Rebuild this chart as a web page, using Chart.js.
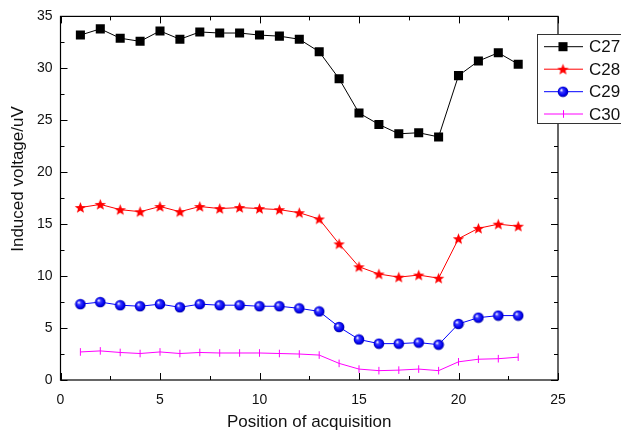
<!DOCTYPE html>
<html>
<head>
<meta charset="utf-8">
<script src="https://cdn.jsdelivr.net/npm/chart.js@4.4.0/dist/chart.umd.min.js"></script>
<style>
html,body{margin:0;padding:0;background:#fff;}
#wrap{width:621px;height:434px;position:relative;}
</style>
</head>
<body>
<div id="wrap"><canvas id="c" width="621" height="434"></canvas></div>
<script>
const positions = [1,2,3,4,5,6,7,8,9,10,11,12,13,14,15,16,17,18,19,20,21,22,23];
const c27 = [33.2,33.8,32.9,32.6,33.6,32.8,33.5,33.4,33.4,33.2,33.1,32.8,31.6,29.0,25.7,24.6,23.7,23.8,23.4,29.3,30.7,31.5,30.4];
const c28 = [16.6,16.9,16.4,16.2,16.7,16.2,16.7,16.5,16.6,16.5,16.4,16.1,15.5,13.1,10.9,10.2,9.9,10.1,9.8,13.6,14.6,15.0,14.8];
const c29 = [7.3,7.5,7.2,7.1,7.3,7.0,7.3,7.2,7.2,7.1,7.1,6.9,6.6,5.1,3.9,3.5,3.5,3.6,3.4,5.4,6.0,6.2,6.2];
const c30 = [2.7,2.8,2.65,2.55,2.7,2.55,2.65,2.6,2.6,2.6,2.55,2.5,2.4,1.6,1.05,0.9,0.95,1.05,0.9,1.75,2.0,2.05,2.2];
const seriesNames = ['C27','C28','C29','C30'];
const xTicks = [0,5,10,15,20,25];
const yTicks = [0,5,10,15,20,25,30,35];
const xTitle = 'Position of acquisition';
const yTitle = 'Induced voltage/uV';

const FONT = '"Liberation Sans", Arial, sans-serif';

function makeStar(color){
  const s = 13, cv = document.createElement('canvas');
  cv.width = s; cv.height = s;
  const g = cv.getContext('2d');
  const cx = s/2, cy = s/2 + 0.5, R = 6, r = 2.6;
  g.beginPath();
  for (let i=0;i<10;i++){
    const ang = -Math.PI/2 + i*Math.PI/5;
    const rad = i%2===0 ? R : r;
    const px = cx + rad*Math.cos(ang), py = cy + rad*Math.sin(ang);
    if(i===0) g.moveTo(px,py); else g.lineTo(px,py);
  }
  g.closePath();
  g.fillStyle = color; g.fill();
  return cv;
}
function makeSphere(){
  const s = 12, cv = document.createElement('canvas');
  cv.width = s; cv.height = s;
  const g = cv.getContext('2d');
  const cx = s/2, cy = s/2, R = 5.3;
  const grd = g.createRadialGradient(cx-1.8, cy-1.8, 0.3, cx, cy, R);
  grd.addColorStop(0, '#ffffff');
  grd.addColorStop(0.3, '#3a3aff');
  grd.addColorStop(0.75, '#0000f0');
  grd.addColorStop(1, '#00009a');
  g.beginPath(); g.arc(cx,cy,R,0,Math.PI*2); g.fillStyle = grd; g.fill();
  return cv;
}
const starImg = makeStar('#ff0000');
const sphereImg = makeSphere();

function pts(arr){ return positions.map((p,i)=>({x:p,y:arr[i]})); }

const datasets = [
  {label:seriesNames[0], data:pts(c27), borderColor:'#000000', backgroundColor:'#000000', borderWidth:1,
   pointStyle:'rect', pointRadius:6.4, pointBorderWidth:0, pointBackgroundColor:'#000000'},
  {label:seriesNames[1], data:pts(c28), borderColor:'#ff0000', backgroundColor:'#ff0000', borderWidth:1,
   pointStyle:starImg, pointRadius:6},
  {label:seriesNames[2], data:pts(c29), borderColor:'#0000ff', backgroundColor:'#0000ff', borderWidth:1,
   pointStyle:sphereImg, pointRadius:6},
  {label:seriesNames[3], data:pts(c30), borderColor:'#ff00ff', backgroundColor:'#ff00ff', borderWidth:1,
   pointStyle:'line', pointRotation:90, pointRadius:3.8, pointBorderWidth:1, pointBorderColor:'#ff00ff'}
];

const framePlugin = {
  id:'frame',
  afterDatasetsDraw(chart){
    const ctx = chart.ctx, a = chart.chartArea;
    const xs = chart.scales.x, ys = chart.scales.y;
    ctx.save();
    ctx.strokeStyle = '#000'; ctx.lineWidth = 1.2;
    ctx.strokeRect(a.left, a.top, a.right-a.left, a.bottom-a.top);
    ctx.lineWidth = 1;
    const maj = 7, min = 4;
    ctx.beginPath();
    for (let i=0;i<xTicks.length;i++){
      const v = xTicks[i];
      const px = Math.round(xs.getPixelForValue(v))+0.5;
      ctx.moveTo(px,a.bottom); ctx.lineTo(px,a.bottom-maj);
      ctx.moveTo(px,a.top); ctx.lineTo(px,a.top+maj);
      if (i<xTicks.length-1){
        const m = Math.round(xs.getPixelForValue((v+xTicks[i+1])/2))+0.5;
        ctx.moveTo(m,a.bottom); ctx.lineTo(m,a.bottom-min);
        ctx.moveTo(m,a.top); ctx.lineTo(m,a.top+min);
      }
    }
    for (let i=0;i<yTicks.length;i++){
      const v = yTicks[i];
      const py = Math.round(ys.getPixelForValue(v))+0.5;
      ctx.moveTo(a.left,py); ctx.lineTo(a.left+maj,py);
      ctx.moveTo(a.right,py); ctx.lineTo(a.right-maj,py);
      if (i<yTicks.length-1){
        const m = Math.round(ys.getPixelForValue((v+yTicks[i+1])/2))+0.5;
        ctx.moveTo(a.left,m); ctx.lineTo(a.left+min,m);
        ctx.moveTo(a.right,m); ctx.lineTo(a.right-min,m);
      }
    }
    ctx.stroke();
    // y title
    ctx.save();
    ctx.translate(18, 179);
    ctx.rotate(-Math.PI/2);
    ctx.fillStyle = '#111';
    ctx.font = '17px ' + FONT;
    ctx.textAlign = 'center'; ctx.textBaseline = 'middle';
    ctx.fillText(yTitle, 0, 0);
    ctx.restore();
    ctx.restore();
  },
  afterDraw(chart){
    const ctx = chart.ctx;
    ctx.save();
    const bx = 537.5, by = 34.5, bw = 100, bh = 89;
    ctx.fillStyle = '#fff';
    ctx.fillRect(bx, by, bw, bh);
    ctx.strokeStyle = '#333'; ctx.lineWidth = 1;
    ctx.strokeRect(bx, by, bw, bh);
    const rows = [46.7, 69.2, 91.7, 114];
    chart.data.datasets.forEach((ds,i)=>{
      const y = rows[i];
      ctx.strokeStyle = ds.borderColor; ctx.lineWidth = 1;
      ctx.beginPath(); ctx.moveTo(544, y); ctx.lineTo(583, y); ctx.stroke();
      const cx = 563;
      if (ds.pointStyle === 'rect'){
        const s = ds.pointRadius*Math.SQRT1_2;
        ctx.fillStyle = ds.pointBackgroundColor; ctx.fillRect(cx-s, y-s, 2*s, 2*s);
      } else if (ds.pointStyle === 'line'){
        ctx.strokeStyle = ds.borderColor; ctx.beginPath();
        ctx.moveTo(cx+0.5, y-ds.pointRadius); ctx.lineTo(cx+0.5, y+ds.pointRadius); ctx.stroke();
      } else {
        const img = ds.pointStyle;
        ctx.drawImage(img, cx-img.width/2, y-img.height/2);
      }
      ctx.fillStyle = '#111';
      ctx.font = '17px ' + FONT;
      ctx.textAlign = 'left'; ctx.textBaseline = 'middle';
      ctx.fillText(ds.label, 589, y+1);
    });
    ctx.restore();
  }
};

new Chart(document.getElementById('c'), {
  type:'line',
  data:{datasets},
  options:{
    responsive:false,
    animation:false,
    layout:{padding:{top:16, right:63, left:0, bottom:0}},
    plugins:{legend:{display:false}, tooltip:{enabled:false}},
    elements:{line:{tension:0}},
    scales:{
      x:{type:'linear', min:0, max:25,
         afterFit(s){ s.height = 54; },
         afterBuildTicks(s){ s.ticks = xTicks.map(v=>({value:v})); },
         grid:{display:false, drawTicks:false}, border:{display:false},
         ticks:{padding:12, color:'#111', font:{family:FONT, size:14}},
         title:{display:true, text:xTitle, color:'#111', font:{family:FONT, size:17}, padding:{top:0,bottom:1}}
      },
      y:{type:'linear', min:0, max:35,
         afterFit(s){ s.width = 60.5; },
         afterBuildTicks(s){ s.ticks = yTicks.map(v=>({value:v})); },
         grid:{display:false, drawTicks:false}, border:{display:false},
         ticks:{padding:8, color:'#111', font:{family:FONT, size:14}}
      }
    }
  },
  plugins:[framePlugin]
});
</script>
</body>
</html>
